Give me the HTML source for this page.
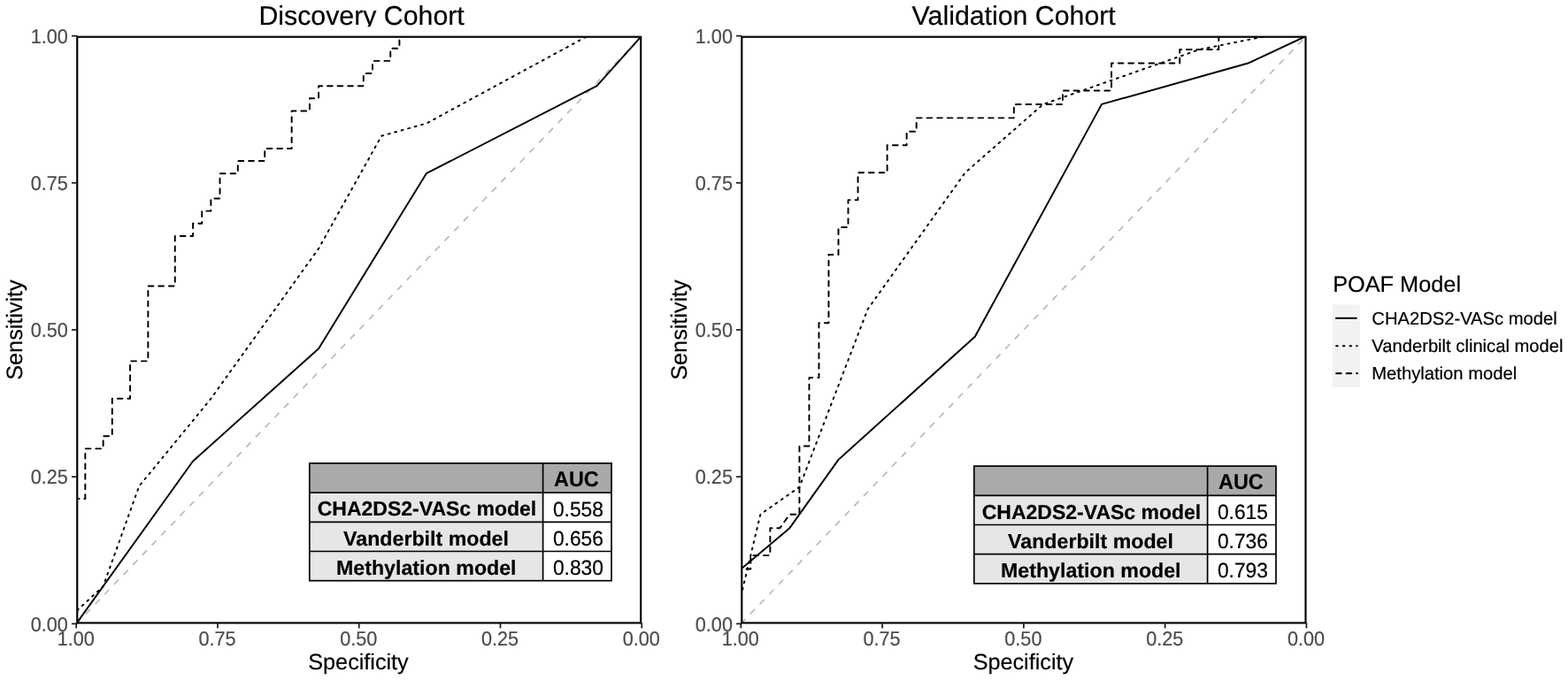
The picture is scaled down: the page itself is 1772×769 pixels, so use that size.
<!DOCTYPE html>
<html lang="en">
<head>
<meta charset="utf-8">
<title>ROC curves – Discovery and Validation Cohort</title>
<style>
html,body{margin:0;padding:0;background:#fff;}
body{width:1772px;height:769px;overflow:hidden;}
svg{display:block;}
text{font-family:"Liberation Sans", sans-serif;text-rendering:geometricPrecision;}
</style>
</head>
<body>
<svg width="1772" height="769" viewBox="0 0 1772 769">
<defs><clipPath id="tc"><rect x="0" y="0" width="1772" height="30.2"/></clipPath></defs>
<rect x="0" y="0" width="1772" height="769" fill="#fff"/>
<clipPath id="cp1"><rect x="87.25" y="41.70" width="636.95" height="662.75"/></clipPath>
<g clip-path="url(#cp1)" fill="none" stroke="#000" stroke-width="1.95" stroke-linejoin="round">
<line x1="86.20" y1="705.40" x2="725.25" y2="40.60" stroke="#b9b9b9" stroke-width="1.7" stroke-dasharray="7.4 8"/>
<polyline points="86.20,705.40 218.07,521.52 360.08,394.22 481.80,196.19 674.53,97.18 725.25,40.60"/>
<polyline points="86.20,705.40 86.20,691.26 116.63,662.97 157.21,549.81 238.35,450.80 360.08,281.06 431.08,153.76 481.80,139.61 664.39,40.60 725.25,40.60" stroke-dasharray="2 5.75" stroke-dashoffset="0" stroke-linecap="round"/>
<polyline points="86.20,705.40 86.20,563.95 96.34,563.95 96.34,507.37 116.63,507.37 116.63,493.23 126.77,493.23 126.77,450.80 147.06,450.80 147.06,408.36 167.35,408.36 167.35,323.49 197.78,323.49 197.78,266.91 218.07,266.91 218.07,252.77 228.21,252.77 228.21,238.63 238.35,238.63 238.35,224.48 248.50,224.48 248.50,196.19 268.79,196.19 268.79,182.05 299.22,182.05 299.22,167.90 329.65,167.90 329.65,125.47 349.93,125.47 349.93,111.32 360.08,111.32 360.08,97.18 410.80,97.18 410.80,83.03 420.94,83.03 420.94,68.89 441.23,68.89 441.23,54.74 451.37,54.74 451.37,40.60 725.25,40.60" stroke-dasharray="5.7 5.885" stroke-dashoffset="0" stroke-linecap="round"/>
</g>
<rect x="87.25" y="41.70" width="636.95" height="662.75" fill="none" stroke="#000" stroke-width="2.15"/>
<line x1="86.20" y1="704.45" x2="86.20" y2="710.45" stroke="#1a1a1a" stroke-width="1.7"/>
<text transform="translate(85.70,730.20) scale(0.9434,1)" font-size="22.90" text-anchor="middle" fill="#4d4d4d" stroke="#4d4d4d" stroke-width="0.2" stroke-linejoin="round">1.00</text>
<line x1="245.96" y1="704.45" x2="245.96" y2="710.45" stroke="#1a1a1a" stroke-width="1.7"/>
<text transform="translate(245.46,730.20) scale(0.9434,1)" font-size="22.90" text-anchor="middle" fill="#4d4d4d" stroke="#4d4d4d" stroke-width="0.2" stroke-linejoin="round">0.75</text>
<line x1="405.72" y1="704.45" x2="405.72" y2="710.45" stroke="#1a1a1a" stroke-width="1.7"/>
<text transform="translate(405.22,730.20) scale(0.9434,1)" font-size="22.90" text-anchor="middle" fill="#4d4d4d" stroke="#4d4d4d" stroke-width="0.2" stroke-linejoin="round">0.50</text>
<line x1="565.49" y1="704.45" x2="565.49" y2="710.45" stroke="#1a1a1a" stroke-width="1.7"/>
<text transform="translate(564.99,730.20) scale(0.9434,1)" font-size="22.90" text-anchor="middle" fill="#4d4d4d" stroke="#4d4d4d" stroke-width="0.2" stroke-linejoin="round">0.25</text>
<line x1="725.25" y1="704.45" x2="725.25" y2="710.45" stroke="#1a1a1a" stroke-width="1.7"/>
<text transform="translate(724.75,730.20) scale(0.9434,1)" font-size="22.90" text-anchor="middle" fill="#4d4d4d" stroke="#4d4d4d" stroke-width="0.2" stroke-linejoin="round">0.00</text>
<line x1="80.95" y1="705.40" x2="87.25" y2="705.40" stroke="#1a1a1a" stroke-width="1.7"/>
<text transform="translate(76.85,713.50) scale(0.9434,1)" font-size="22.90" text-anchor="end" fill="#4d4d4d" stroke="#4d4d4d" stroke-width="0.2" stroke-linejoin="round">0.00</text>
<line x1="80.95" y1="539.20" x2="87.25" y2="539.20" stroke="#1a1a1a" stroke-width="1.7"/>
<text transform="translate(76.85,547.30) scale(0.9434,1)" font-size="22.90" text-anchor="end" fill="#4d4d4d" stroke="#4d4d4d" stroke-width="0.2" stroke-linejoin="round">0.25</text>
<line x1="80.95" y1="373.00" x2="87.25" y2="373.00" stroke="#1a1a1a" stroke-width="1.7"/>
<text transform="translate(76.85,381.10) scale(0.9434,1)" font-size="22.90" text-anchor="end" fill="#4d4d4d" stroke="#4d4d4d" stroke-width="0.2" stroke-linejoin="round">0.50</text>
<line x1="80.95" y1="206.80" x2="87.25" y2="206.80" stroke="#1a1a1a" stroke-width="1.7"/>
<text transform="translate(76.85,214.90) scale(0.9434,1)" font-size="22.90" text-anchor="end" fill="#4d4d4d" stroke="#4d4d4d" stroke-width="0.2" stroke-linejoin="round">0.75</text>
<line x1="80.95" y1="40.60" x2="87.25" y2="40.60" stroke="#1a1a1a" stroke-width="1.7"/>
<text transform="translate(76.85,48.70) scale(0.9434,1)" font-size="22.90" text-anchor="end" fill="#4d4d4d" stroke="#4d4d4d" stroke-width="0.2" stroke-linejoin="round">1.00</text>
<rect x="349.8" y="523.9" width="341.2" height="33.2" fill="#aaa9a9"/>
<rect x="349.8" y="557.1" width="263.8" height="99.6" fill="#e6e6e6"/>
<rect x="613.6" y="557.1" width="77.4" height="99.6" fill="#fff"/>
<rect x="349.8" y="523.9" width="341.2" height="132.8" fill="none" stroke="#000" stroke-width="1.7"/>
<line x1="349.8" y1="557.1" x2="691.0" y2="557.1" stroke="#000" stroke-width="1.7"/>
<line x1="349.8" y1="590.3" x2="691.0" y2="590.3" stroke="#000" stroke-width="1.7"/>
<line x1="349.8" y1="623.5" x2="691.0" y2="623.5" stroke="#000" stroke-width="1.7"/>
<line x1="613.6" y1="523.9" x2="613.6" y2="656.7" stroke="#000" stroke-width="1.7"/>
<text transform="translate(651.40,549.80) scale(0.9615,1)" font-size="24.34" text-anchor="middle" fill="#000" stroke="#000" stroke-width="0.2" stroke-linejoin="round" font-weight="bold">AUC</text>
<text transform="translate(482.50,583.30)" font-size="23.00" text-anchor="middle" fill="#000" stroke="#000" stroke-width="0.2" stroke-linejoin="round" font-weight="bold">CHA2DS2-VASc model</text>
<text transform="translate(653.40,583.50) scale(0.9615,1)" font-size="23.71" text-anchor="middle" fill="#000" stroke="#000" stroke-width="0.2" stroke-linejoin="round">0.558</text>
<text transform="translate(481.50,616.50)" font-size="23.20" text-anchor="middle" fill="#000" stroke="#000" stroke-width="0.2" stroke-linejoin="round" font-weight="bold">Vanderbilt model</text>
<text transform="translate(653.40,616.70) scale(0.9615,1)" font-size="23.71" text-anchor="middle" fill="#000" stroke="#000" stroke-width="0.2" stroke-linejoin="round">0.656</text>
<text transform="translate(481.80,649.70)" font-size="23.20" text-anchor="middle" fill="#000" stroke="#000" stroke-width="0.2" stroke-linejoin="round" font-weight="bold">Methylation model</text>
<text transform="translate(653.40,649.90) scale(0.9615,1)" font-size="23.71" text-anchor="middle" fill="#000" stroke="#000" stroke-width="0.2" stroke-linejoin="round">0.830</text>
<clipPath id="cp2"><rect x="838.30" y="41.70" width="637.20" height="662.75"/></clipPath>
<g clip-path="url(#cp2)" fill="none" stroke="#000" stroke-width="1.95" stroke-linejoin="round">
<line x1="837.30" y1="705.40" x2="1476.45" y2="40.60" stroke="#b9b9b9" stroke-width="1.7" stroke-dasharray="7.4 8"/>
<polyline points="837.30,705.40 837.30,643.56 892.40,597.18 947.50,519.87 1101.78,380.73 1245.03,117.90 1410.33,71.52 1476.45,40.60"/>
<polyline points="837.30,705.40 837.30,674.48 859.34,581.72 903.42,550.80 980.56,349.81 1090.76,195.20 1178.91,117.90 1355.23,56.06 1432.37,40.60 1476.45,40.60" stroke-dasharray="2 5.75" stroke-dashoffset="0" stroke-linecap="round"/>
<polyline points="837.30,705.40 837.30,643.56 848.32,643.56 848.32,628.10 870.36,628.10 870.36,597.18 881.38,597.18 892.40,581.72 903.42,581.72 903.42,504.41 914.44,504.41 914.44,427.11 925.46,427.11 925.46,365.27 936.48,365.27 936.48,287.97 947.50,287.97 947.50,257.05 958.52,257.05 958.52,226.13 969.54,226.13 969.54,195.20 1002.60,195.20 1002.60,164.28 1024.64,164.28 1024.64,148.82 1035.66,148.82 1035.66,133.36 1145.86,133.36 1145.86,117.90 1200.95,117.90 1200.95,102.44 1256.05,102.44 1256.05,71.52 1333.19,71.52 1333.19,56.06 1377.27,56.06 1377.27,40.60 1476.45,40.60" stroke-dasharray="5.7 5.885" stroke-dashoffset="1.4" stroke-linecap="round"/>
</g>
<rect x="838.30" y="41.70" width="637.20" height="662.75" fill="none" stroke="#000" stroke-width="2.15"/>
<line x1="837.30" y1="704.45" x2="837.30" y2="710.45" stroke="#1a1a1a" stroke-width="1.7"/>
<text transform="translate(836.80,730.20) scale(0.9434,1)" font-size="22.90" text-anchor="middle" fill="#4d4d4d" stroke="#4d4d4d" stroke-width="0.2" stroke-linejoin="round">1.00</text>
<line x1="997.09" y1="704.45" x2="997.09" y2="710.45" stroke="#1a1a1a" stroke-width="1.7"/>
<text transform="translate(996.59,730.20) scale(0.9434,1)" font-size="22.90" text-anchor="middle" fill="#4d4d4d" stroke="#4d4d4d" stroke-width="0.2" stroke-linejoin="round">0.75</text>
<line x1="1156.88" y1="704.45" x2="1156.88" y2="710.45" stroke="#1a1a1a" stroke-width="1.7"/>
<text transform="translate(1156.38,730.20) scale(0.9434,1)" font-size="22.90" text-anchor="middle" fill="#4d4d4d" stroke="#4d4d4d" stroke-width="0.2" stroke-linejoin="round">0.50</text>
<line x1="1316.66" y1="704.45" x2="1316.66" y2="710.45" stroke="#1a1a1a" stroke-width="1.7"/>
<text transform="translate(1316.16,730.20) scale(0.9434,1)" font-size="22.90" text-anchor="middle" fill="#4d4d4d" stroke="#4d4d4d" stroke-width="0.2" stroke-linejoin="round">0.25</text>
<line x1="1476.45" y1="704.45" x2="1476.45" y2="710.45" stroke="#1a1a1a" stroke-width="1.7"/>
<text transform="translate(1475.95,730.20) scale(0.9434,1)" font-size="22.90" text-anchor="middle" fill="#4d4d4d" stroke="#4d4d4d" stroke-width="0.2" stroke-linejoin="round">0.00</text>
<line x1="832.00" y1="705.40" x2="838.30" y2="705.40" stroke="#1a1a1a" stroke-width="1.7"/>
<text transform="translate(827.90,713.50) scale(0.9434,1)" font-size="22.90" text-anchor="end" fill="#4d4d4d" stroke="#4d4d4d" stroke-width="0.2" stroke-linejoin="round">0.00</text>
<line x1="832.00" y1="539.20" x2="838.30" y2="539.20" stroke="#1a1a1a" stroke-width="1.7"/>
<text transform="translate(827.90,547.30) scale(0.9434,1)" font-size="22.90" text-anchor="end" fill="#4d4d4d" stroke="#4d4d4d" stroke-width="0.2" stroke-linejoin="round">0.25</text>
<line x1="832.00" y1="373.00" x2="838.30" y2="373.00" stroke="#1a1a1a" stroke-width="1.7"/>
<text transform="translate(827.90,381.10) scale(0.9434,1)" font-size="22.90" text-anchor="end" fill="#4d4d4d" stroke="#4d4d4d" stroke-width="0.2" stroke-linejoin="round">0.50</text>
<line x1="832.00" y1="206.80" x2="838.30" y2="206.80" stroke="#1a1a1a" stroke-width="1.7"/>
<text transform="translate(827.90,214.90) scale(0.9434,1)" font-size="22.90" text-anchor="end" fill="#4d4d4d" stroke="#4d4d4d" stroke-width="0.2" stroke-linejoin="round">0.75</text>
<line x1="832.00" y1="40.60" x2="838.30" y2="40.60" stroke="#1a1a1a" stroke-width="1.7"/>
<text transform="translate(827.90,48.70) scale(0.9434,1)" font-size="22.90" text-anchor="end" fill="#4d4d4d" stroke="#4d4d4d" stroke-width="0.2" stroke-linejoin="round">1.00</text>
<rect x="1100.8" y="527.1" width="341.2" height="33.2" fill="#aaa9a9"/>
<rect x="1100.8" y="560.3000000000001" width="263.8" height="99.6" fill="#e6e6e6"/>
<rect x="1364.6" y="560.3000000000001" width="77.4" height="99.6" fill="#fff"/>
<rect x="1100.8" y="527.1" width="341.2" height="132.8" fill="none" stroke="#000" stroke-width="1.7"/>
<line x1="1100.8" y1="560.3" x2="1442.0" y2="560.3" stroke="#000" stroke-width="1.7"/>
<line x1="1100.8" y1="593.5" x2="1442.0" y2="593.5" stroke="#000" stroke-width="1.7"/>
<line x1="1100.8" y1="626.7" x2="1442.0" y2="626.7" stroke="#000" stroke-width="1.7"/>
<line x1="1364.6" y1="527.1" x2="1364.6" y2="659.9" stroke="#000" stroke-width="1.7"/>
<text transform="translate(1402.40,553.00) scale(0.9615,1)" font-size="24.34" text-anchor="middle" fill="#000" stroke="#000" stroke-width="0.2" stroke-linejoin="round" font-weight="bold">AUC</text>
<text transform="translate(1233.50,586.50)" font-size="23.00" text-anchor="middle" fill="#000" stroke="#000" stroke-width="0.2" stroke-linejoin="round" font-weight="bold">CHA2DS2-VASc model</text>
<text transform="translate(1404.40,586.70) scale(0.9615,1)" font-size="23.71" text-anchor="middle" fill="#000" stroke="#000" stroke-width="0.2" stroke-linejoin="round">0.615</text>
<text transform="translate(1232.50,619.70)" font-size="23.20" text-anchor="middle" fill="#000" stroke="#000" stroke-width="0.2" stroke-linejoin="round" font-weight="bold">Vanderbilt model</text>
<text transform="translate(1404.40,619.90) scale(0.9615,1)" font-size="23.71" text-anchor="middle" fill="#000" stroke="#000" stroke-width="0.2" stroke-linejoin="round">0.736</text>
<text transform="translate(1232.80,652.90)" font-size="23.20" text-anchor="middle" fill="#000" stroke="#000" stroke-width="0.2" stroke-linejoin="round" font-weight="bold">Methylation model</text>
<text transform="translate(1404.40,653.10) scale(0.9615,1)" font-size="23.71" text-anchor="middle" fill="#000" stroke="#000" stroke-width="0.2" stroke-linejoin="round">0.793</text>

<rect x="1506" y="344.5" width="30.8" height="93.3" fill="#f2f2f2"/>
<line x1="1509.1" y1="359.8" x2="1533.7" y2="359.8" stroke="#000" stroke-width="1.95"/>
<line x1="1510.1" y1="391.2" x2="1533.7" y2="391.2" stroke="#000" stroke-width="1.95" stroke-dasharray="1.7 5.95" stroke-linecap="round"/>
<line x1="1510.1" y1="422.3" x2="1534.0" y2="422.3" stroke="#000" stroke-width="1.95" stroke-dasharray="5.6 5.9" stroke-linecap="round"/>
<text transform="translate(1506.20,329.60)" font-size="25.30" text-anchor="start" fill="#000" stroke="#000" stroke-width="0.2" stroke-linejoin="round">POAF Model</text>
<text transform="translate(1550.30,367.10)" font-size="20.20" text-anchor="start" fill="#000" stroke="#000" stroke-width="0.2" stroke-linejoin="round">CHA2DS2-VASc model</text>
<text transform="translate(1550.30,398.30)" font-size="20.20" text-anchor="start" fill="#000" stroke="#000" stroke-width="0.2" stroke-linejoin="round">Vanderbilt clinical model</text>
<text transform="translate(1550.30,429.40)" font-size="20.20" text-anchor="start" fill="#000" stroke="#000" stroke-width="0.2" stroke-linejoin="round">Methylation model</text>


<g clip-path="url(#tc)">
<text transform="translate(408.60,28.20)" font-size="30.30" text-anchor="middle" fill="#000" stroke="#000" stroke-width="0.2" stroke-linejoin="round">Discovery Cohort</text>
<text transform="translate(1145.70,28.20)" font-size="30.30" text-anchor="middle" fill="#000" stroke="#000" stroke-width="0.2" stroke-linejoin="round">Validation Cohort</text>
</g>
<text transform="translate(405.00,757.40)" font-size="25.20" text-anchor="middle" fill="#000" stroke="#000" stroke-width="0.2" stroke-linejoin="round">Specificity</text>
<text transform="translate(1156.40,757.40)" font-size="25.20" text-anchor="middle" fill="#000" stroke="#000" stroke-width="0.2" stroke-linejoin="round">Specificity</text>
<text transform="translate(24.80,373.00) rotate(-90)" font-size="25.20" text-anchor="middle" fill="#000" stroke="#000" stroke-width="0.2" stroke-linejoin="round">Sensitivity</text>
<text transform="translate(775.90,373.00) rotate(-90)" font-size="25.20" text-anchor="middle" fill="#000" stroke="#000" stroke-width="0.2" stroke-linejoin="round">Sensitivity</text>

</svg>
</body>
</html>
